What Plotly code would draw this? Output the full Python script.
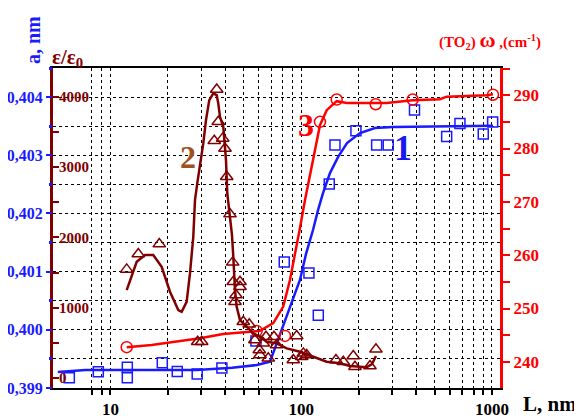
import plotly.graph_objects as go

# ---------------- data ----------------
# Curve 1 : lattice parameter a (nm) vs L
L_a_line = [5.3, 7.4, 10, 28.4, 43.4, 58.6, 68.6, 79.2, 87.3, 98.5, 105.9, 115.3, 122.5, 130.1, 141.5, 155.9, 173.8, 203.3, 243.6, 302.9, 1012]
a_line = [0.399275, 0.399309, 0.399309, 0.399309, 0.399349, 0.399395, 0.399452, 0.399997, 0.400400, 0.400856, 0.401300, 0.401715, 0.402058, 0.402351, 0.402694, 0.402969, 0.403210, 0.403381, 0.403467, 0.403485, 0.403507]
L_a_pts = [6.09, 8.64, 12.26, 12.26, 18.7, 22.4, 28.5, 38.4, 57.9, 81.5, 109.8, 122.9, 140.3, 150.3, 193.6, 248.6, 285.9, 392.5, 578.7, 679.4, 900, 1008]
a_pts = [0.399177, 0.399280, 0.399356, 0.399177, 0.399435, 0.399284, 0.399241, 0.399344, 0.399808, 0.401165, 0.400976, 0.400249, 0.402505, 0.403175, 0.403421, 0.403175, 0.403175, 0.403777, 0.403321, 0.403545, 0.403364, 0.403570]

# Curve 2 : epsilon / epsilon0 vs L
L_eps_line = [12.17, 13.73, 15.18, 16.77, 18.56, 20.52, 22.69, 23.63, 25.09, 26.12, 27.19, 27.75, 28.53, 29.47, 30.67, 31.69, 32.97, 34.60, 36.06, 36.76, 37.52, 39.05, 40.34, 40.98, 42.33, 43.37, 44.06, 44.97, 45.9, 47.77, 51.8, 56.1, 60.8, 65.9, 74.3, 83.9, 98.5, 115.7, 136.0, 159.7, 180.1, 220.3, 234.9, 246.5]
eps_line = [1252, 1654, 1750, 1750, 1583, 1228, 967, 943, 1085, 1489, 2010, 2532, 2774, 3006, 3339, 3670, 3955, 4050, 4026, 3908, 3717, 3575, 3101, 2627, 2319, 2034, 1726, 1252, 1014, 825, 730, 636, 587, 516, 494, 422, 374, 303, 232, 209, 171, 152, 199, 313]
L_eps_pts = [12.17, 14.0, 18.04, 28.67, 30.08, 36.06, 36.76, 35.03, 38.77, 39.86, 40.69, 42.33, 43.73, 44.06, 47.77, 47.77, 45.5, 44.97, 49.7, 53.4, 57.2, 60.3, 65.4, 63.3, 60.8, 67.2, 72.0, 74.3, 94.7, 90.9, 100.6, 106.8, 102.6, 152.1, 166.2, 187.5, 191.3, 229.3, 246.5]
eps_pts = [1546, 1764, 1906, 516, 516, 4107, 3646, 3376, 3410, 3267, 2864, 2333, 1646, 1370, 1370, 1299, 1181, 1085, 801, 764, 541, 398, 587, 494, 327, 280, 587, 469, 597, 256, 303, 327, 351, 256, 232, 313, 161, 171, 408]

# Curve 3 : TO2 phonon frequency omega (cm-1) vs L
L_w_line = [12.17, 16.45, 22.25, 29.5, 39.0, 55.0, 60.8, 71.4, 80.5, 87.3, 94.7, 98.5, 104.7, 113.4, 120.5, 125.4, 136.0, 153.5, 173.1, 280.5, 383.9, 533.8, 578.7, 937.7, 1012]
w_line = [242.75, 243.18, 243.80, 244.44, 245.24, 245.67, 245.81, 247.25, 250.36, 255.36, 261.59, 265.09, 270.34, 276.57, 281.57, 284.38, 287.19, 288.88, 288.56, 288.56, 289.06, 289.25, 289.72, 290.0, 290.19]
L_w_pts = [12.17, 58.4, 82.2, 125.4, 153.5, 245.7, 383.9, 1012]
w_pts = [242.75, 245.81, 244.87, 285.0, 289.19, 288.31, 289.19, 290.09]

# axis ticks
x_tickvals = [6, 7, 8, 9, 10, 20, 30, 40, 50, 60, 70, 80, 90, 100,
              200, 300, 400, 500, 600, 700, 800, 900, 1000]
x_ticktext = [" " if v not in (10, 100, 1000) else str(v) for v in x_tickvals]
a_tickvals = [0.399, 0.400, 0.401, 0.402, 0.403, 0.404]
a_ticktext = ["0,399", "0,400", "0,401", "0,402", "0,403", "0,404"]
a_minor = [0.3995, 0.4005, 0.4015, 0.4025, 0.4035, 0.4045]
eps_tickvals = [0, 1000, 2000, 3000, 4000]
eps_ticktext = ["0", "1000", "2000", "3000", "4000"]
w_tickvals = [240, 250, 260, 270, 280, 290]
w_ticktext = ["240", "250", "260", "270", "280", "290"]

BLUE = "#1a1aff"
RED = "#ff0000"
DRED = "#800000"
SERIF = "Liberation Serif"

fig = go.Figure()

fig.add_trace(go.Scatter(x=L_a_line, y=a_line, mode="lines", yaxis="y",
                         line=dict(color=BLUE, width=2.5), showlegend=False))
fig.add_trace(go.Scatter(x=L_a_pts, y=a_pts, mode="markers", yaxis="y",
                         marker=dict(symbol="square-open", size=10, color=BLUE, line=dict(width=1.5, color=BLUE)),
                         showlegend=False))

fig.add_trace(go.Scatter(x=L_w_line, y=w_line, mode="lines", yaxis="y2",
                         line=dict(color=RED, width=2.5), showlegend=False))
fig.add_trace(go.Scatter(x=L_w_pts, y=w_pts, mode="markers", yaxis="y2",
                         marker=dict(symbol="circle-open", size=11, color=RED, line=dict(width=1.5, color=RED)),
                         showlegend=False))

fig.add_trace(go.Scatter(x=L_eps_line, y=eps_line, mode="lines", yaxis="y3",
                         line=dict(color=DRED, width=2.5), showlegend=False))
fig.add_trace(go.Scatter(x=L_eps_pts, y=eps_pts, mode="markers", yaxis="y3",
                         marker=dict(symbol="triangle-up-open", size=11, color=DRED, line=dict(width=1.5, color=DRED)),
                         showlegend=False))


def note(text, x, y, size, color, angle=0):
    return dict(text=text, x=x, y=y, xref="paper", yref="paper", xanchor="center",
                yanchor="middle", textangle=angle, showarrow=False,
                font=dict(family=SERIF, size=size, color=color))


fig.update_layout(
    width=574, height=411,
    margin=dict(l=45, r=82, t=60, b=31, autoexpand=False),
    plot_bgcolor="white", paper_bgcolor="white",
    font=dict(family=SERIF),
    xaxis=dict(type="log", range=[0.699, 3.042], automargin=False,
               tickmode="array", tickvals=x_tickvals, ticktext=x_ticktext, tickangle=0,
               ticks="outside", ticklen=5, tickwidth=2, tickcolor="black",
               showline=True, linecolor="black", linewidth=2, mirror=True,
               showgrid=True, gridcolor="black", gridwidth=1, griddash="dot",
               zeroline=False,
               tickfont=dict(family=SERIF, size=17, color="black", weight="bold")),
    yaxis=dict(range=[0.399, 0.4045], automargin=False,
               tickmode="array", tickvals=a_tickvals, ticktext=a_ticktext,
               ticks="outside", ticklen=6, tickwidth=2, tickcolor=BLUE,
               showline=False,
               showgrid=True, gridcolor="black", gridwidth=1, griddash="dot",
               minor=dict(tickmode="array", tickvals=a_minor, ticks="outside", ticklen=3,
                          tickwidth=3, tickcolor=BLUE, showgrid=True,
                          gridcolor="black", gridwidth=1, griddash="dot"),
               zeroline=False,
               tickfont=dict(family=SERIF, size=16, color=BLUE, weight="bold")),
    yaxis2=dict(range=[235.1, 295.1], overlaying="y", side="right", anchor="x", automargin=False,
                tickmode="array", tickvals=w_tickvals, ticktext=w_ticktext,
                ticks="outside", ticklen=7, tickwidth=2, tickcolor=RED,
                minor=dict(dtick=5, tick0=235, ticks="outside", ticklen=7, tickwidth=2, tickcolor=RED, showgrid=False),
                showline=True, linecolor=RED, linewidth=3,
                showgrid=False, zeroline=False,
                tickfont=dict(family=SERIF, size=17, color=RED, weight="bold")),
    yaxis3=dict(range=[-142, 4412], overlaying="y", side="left", anchor="x", automargin=False,
                tickmode="array", tickvals=eps_tickvals, ticktext=eps_ticktext,
                ticks="inside", ticklen=6, tickwidth=2, tickcolor=DRED,
                ticklabelposition="inside",
                minor=dict(dtick=500, tick0=0, ticks="inside", ticklen=6, tickwidth=2, tickcolor=DRED, showgrid=False),
                showline=True, linecolor=DRED, linewidth=3,
                showgrid=False, zeroline=False,
                tickfont=dict(family=SERIF, size=15, color=DRED, weight="bold")),
    annotations=[
        note("<b>a, nm</b>", -0.045, 1.087, 20, BLUE, -90),
        dict(text="<b>ε/ε<sub>0</sub></b>", x=-0.007, y=0.985, xref="paper", yref="paper",
             xanchor="left", yanchor="bottom", showarrow=False,
             font=dict(family=SERIF, size=21, color=DRED)),
        note("<b>(TO<sub>2</sub>) <span style='font-size:22px'>ω</span> ,(cm<sup>-1</sup>)</b>",
             0.978, 1.09, 15, RED),
        note("<b>L, nm</b>", 1.112, -0.05, 21, "black"),
        note("<b>1</b>", 0.783, 0.75, 36, "#1a1aee"),
        note("<b>2</b>", 0.302, 0.722, 32, "#a0521e"),
        note("<b>3</b>", 0.566, 0.822, 32, RED),
    ],
)

fig.write_html("out.html")
